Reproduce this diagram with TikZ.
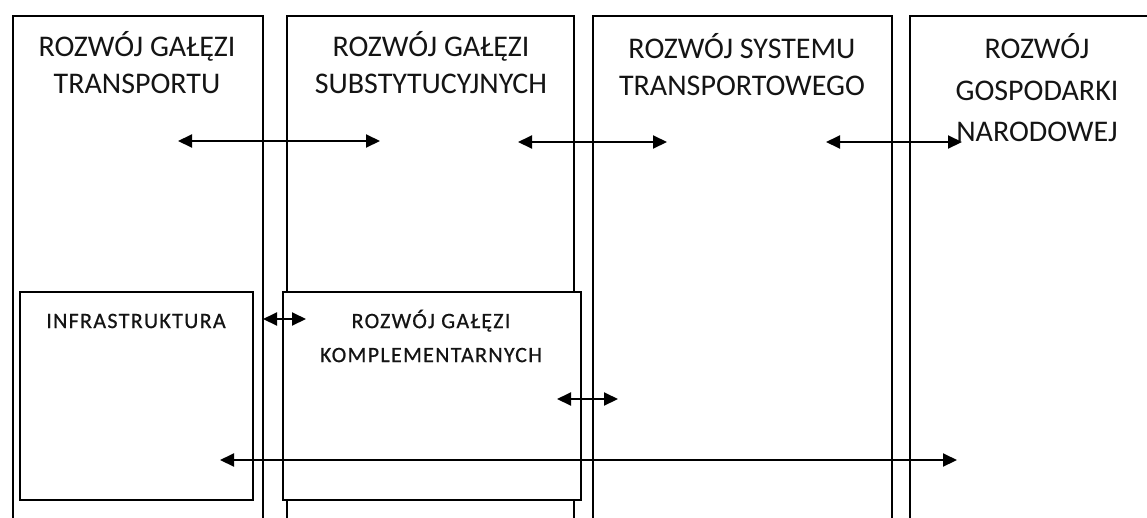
\documentclass[tikz,border=0pt]{standalone}
\usepackage{fontspec}
\setmainfont{Carlito}
\newfontfamily\innerfont[LetterSpace=6,FakeBold=0.6]{Carlito}
\usetikzlibrary{arrows.meta}
\begin{document}
\begin{tikzpicture}[x=1pt,y=-1pt,
  colbox/.style={draw=black, line width=2pt, fill=white, rectangle, inner sep=0pt, anchor=north west},
  innerbox/.style={draw=black, line width=2pt, fill=white, rectangle, inner sep=0pt, anchor=north west},
  coltitle/.style={font=\fontsize{30}{37}\selectfont, align=center, inner sep=0pt, text=black!92},
  intitle/.style={font=\innerfont\fontsize{22}{34}\selectfont, align=center, inner sep=0pt, text=black!92},
  biarrow/.style={line width=2pt, {Triangle[length=14pt,width=13pt]}-{Triangle[length=14pt,width=13pt]}}]
\clip (0,0) rectangle (1147,517);
\fill[white] (0,0) rectangle (1147,517);
% column boxes
\node[colbox, minimum width=250pt, minimum height=540pt] (c1) at (12,15) {};
\node[colbox, minimum width=287pt, minimum height=540pt] (c2) at (286,15) {};
\node[colbox, minimum width=299pt, minimum height=540pt] (c3) at (592,15) {};
\node[colbox, minimum width=260pt, minimum height=540pt] (c4) at (909,15) {};
% titles
\node[coltitle] (t1) at (137,63) {ROZWÓJ GAŁĘZI\\TRANSPORTU};
\node[coltitle] (t2) at (431,63) {ROZWÓJ GAŁĘZI\\SUBSTYTUCYJNYCH};
\node[coltitle] (t3) at (742,65) {ROZWÓJ SYSTEMU\\TRANSPORTOWEGO};
\node[coltitle, font=\fontsize{30}{41.5}\selectfont] (t4) at (1037,88) {ROZWÓJ\\GOSPODARKI\\NARODOWEJ};
% inner boxes
\node[innerbox, minimum width=233pt, minimum height=208pt] (i1) at (19,291) {};
\node[innerbox, minimum width=298pt, minimum height=208pt] (i2) at (282,291) {};
\node[intitle] (it1) at (136,321) {INFRASTRUKTURA};
\node[intitle] (it2) at (431,336) {ROZWÓJ GAŁĘZI\\KOMPLEMENTARNYCH};
% arrow end points
\coordinate (a1l) at (178,141);
\coordinate (a1r) at (380,141);
\coordinate (a2l) at (518,142);
\coordinate (a2r) at (667,142);
\coordinate (a3l) at (826,142);
\coordinate (a3r) at (962,142);
\coordinate (a4l) at (263,319);
\coordinate (a4r) at (306,319);
\coordinate (a5l) at (557,399);
\coordinate (a5r) at (618,399);
\coordinate (a6l) at (220,460);
\coordinate (a6r) at (957,460);
\draw[biarrow] (a1l) -- (a1r);
\draw[biarrow] (a2l) -- (a2r);
\draw[biarrow] (a3l) -- (a3r);
\draw[biarrow] (a4l) -- (a4r);
\draw[biarrow] (a5l) -- (a5r);
\draw[biarrow] (a6l) -- (a6r);
\end{tikzpicture}
\end{document}
